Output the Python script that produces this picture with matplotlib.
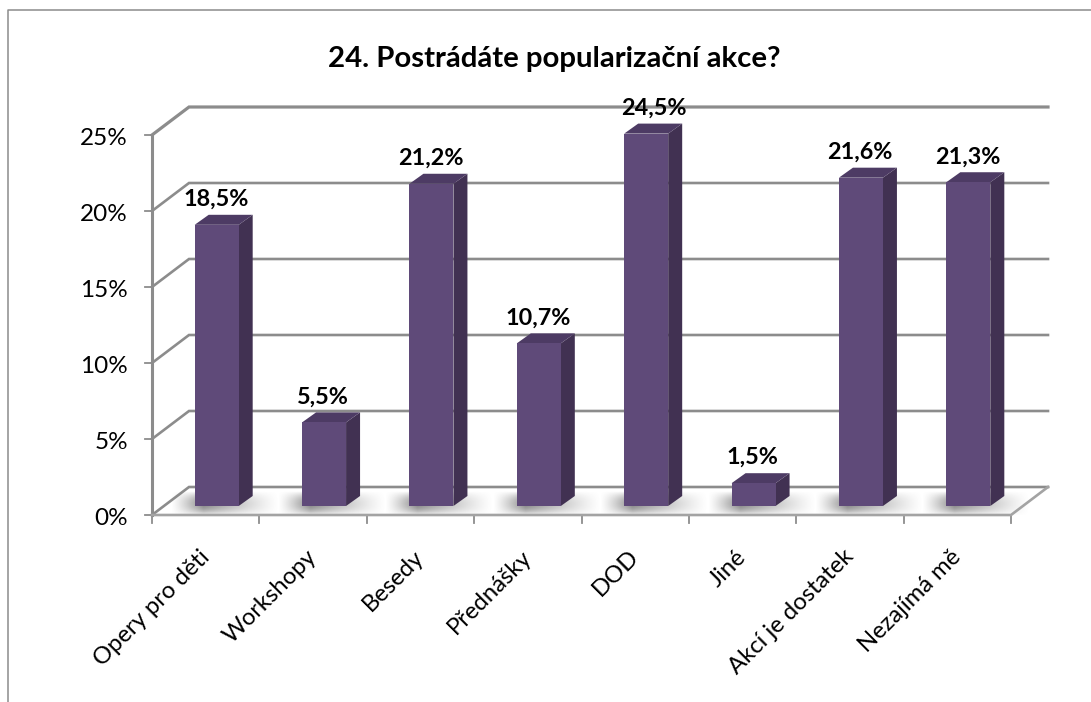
import matplotlib
matplotlib.use("Agg")
import matplotlib.pyplot as plt
from matplotlib.patches import Polygon
import numpy as np

plt.rcParams['font.family'] = ['Lato', 'DejaVu Sans']

# Values
categories = ['Opery pro děti', 'Workshopy', 'Besedy', 'Přednášky', 'DOD', 'Jiné', 'Akcí je dostatek', 'Nezajímá mě']
values = [18.5, 5.5, 21.2, 10.7, 24.5, 1.5, 21.6, 21.3]
value_labels = ['18,5%', '5,5%', '21,2%', '10,7%', '24,5%', '1,5%', '21,6%', '21,3%']
y_ticks = [0, 5, 10, 15, 20, 25]
y_tick_labels = ['0%', '5%', '10%', '15%', '20%', '25%']
title = '24. Postrádáte popularizační akce?'

W, H = 1091, 702
GRID = '#8c8c8c'
FRONT = '#5f4a79'
SIDE = '#413152'
TOP = '#4d3b64'

# Axes cover the front plane of the fake 3D box
fig = plt.figure(figsize=(W / 100, H / 100), dpi=100, facecolor='white')
ax = fig.add_axes([152 / W, (H - 515) / H, 859 / W, 380 / H])
ax.set_xlim(0, len(categories))
ax.set_ylim(0, 25)
ax.axis('off')

px_x = len(categories) / 859
px_y = 25 / 380
depth_x = 37 * px_x
depth_y = 28 * px_y
n = len(categories)

# Walls: diagonal and back line for every tick, short tick mark at the front
for t, lab in zip(y_ticks, y_tick_labels):
    ax.plot([0, depth_x, n + depth_x], [t, t + depth_y, t + depth_y], color=GRID,
            lw=2.3 if t == 25 else 1.9, clip_on=False, solid_joinstyle='miter', zorder=1)
    ax.plot([-7 * px_x, 0], [t, t], color=GRID, lw=1.3, clip_on=False, zorder=1)
    ax.text(-24 * px_x, t - 0.2, lab, ha='right', va='center', fontsize=17.5, color='black', clip_on=False)
ax.plot([0, 0], [0, 25], color=GRID, lw=2.2, clip_on=False, zorder=2)

# Floor
ax.plot([0, n, n + depth_x], [0, 0, depth_y], color='#a3a3a3', lw=1.9, clip_on=False, zorder=5)
for i in range(n + 1):
    ax.plot([i, i], [0, -8 * px_y], color=GRID, lw=1.3, clip_on=False, zorder=1)

# Bars
bar_off = 11 * px_x
half_w = 22 * px_x
bar_dx = 14 * px_x
bar_dy = 10 * px_y
base = 9 * px_y

# Soft shadow on the floor behind each bar
yy, xx = np.mgrid[0:1:40j, 0:1:120j]
shade = np.clip(np.minimum(xx / 0.3, (1 - xx) / 0.7), 0, 1) ** 1.2 * np.sin(np.pi * yy) ** 0.9
rgba = np.zeros(shade.shape + (4,))
rgba[..., :3] = 0.42
rgba[..., 3] = shade * 0.8

# the 24,5% label sits off centre in the original
label_shift = [0, 0, 0, 0, 9, 0, 0, 0]

for i, (v, lab) in enumerate(zip(values, value_labels)):
    x0 = i + 0.5 + bar_off - half_w
    x1 = i + 0.5 + bar_off + half_w
    bottom = base
    top = base + v
    ax.imshow(rgba, extent=(x0 - 24 * px_x, x1 + 40 * px_x, -1 * px_y, 24 * px_y), aspect='auto',
              zorder=3, interpolation='bilinear', clip_on=False)
    ax.add_patch(Polygon([(x1, bottom), (x1 + bar_dx, bottom + bar_dy), (x1 + bar_dx, top + bar_dy), (x1, top)],
                         closed=True, fc=SIDE, ec='none', zorder=6, clip_on=False))
    ax.add_patch(Polygon([(x0, top), (x1, top), (x1 + bar_dx, top + bar_dy), (x0 + bar_dx, top + bar_dy)],
                         closed=True, fc=TOP, ec='none', zorder=6, clip_on=False))
    ax.add_patch(Polygon([(x0, bottom), (x1, bottom), (x1, top), (x0, top)],
                         closed=True, fc=FRONT, ec='none', zorder=7, clip_on=False))
    ax.text((x0 + x1) / 2 + (label_shift[i] - 1) * px_x, top + 1.68, lab, ha='center', va='center', fontsize=16.8,
            fontweight='bold', color='black', zorder=8, clip_on=False)
    # category label, rotated, right end near the category centre
    ax.text(i + 0.5 - 7 * px_x, -31 * px_y, categories[i], rotation=45, rotation_mode='anchor',
            ha='right', va='top', fontsize=17.2, color='black', clip_on=False)

ax.set_xlim(0, n)
ax.set_ylim(0, 25)

fig.text(554 / W, 1 - 59 / H, title, ha='center', va='center', fontsize=21.2, fontweight='bold', color='black')

# Outer chart border
fig.add_artist(plt.Line2D([8 / W, 8 / W, 1], [0, 1 - 10 / H, 1 - 10 / H], color='#8c8c8c', lw=1.1))

fig.savefig('out.png', dpi=100, facecolor='white')
